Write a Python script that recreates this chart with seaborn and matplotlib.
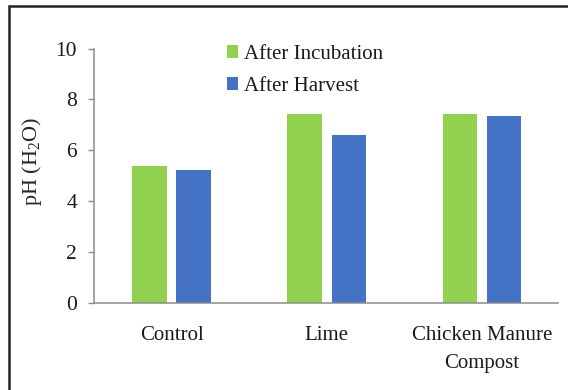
import matplotlib
matplotlib.use("Agg")
import matplotlib.pyplot as plt
import seaborn as sns
import pandas as pd
from matplotlib.patches import Rectangle

categories = ["Control", "Lime", "Chicken Manure\nCompost"]
after_incubation = [5.37, 7.42, 7.44]
after_harvest = [5.24, 6.60, 7.36]
series_names = ["After Incubation", "After Harvest"]
y_ticks = [0, 2, 4, 6, 8, 10]
colors = ["#92D050", "#4472C4"]

df = pd.DataFrame({
    "Treatment": categories * 2,
    "pH": after_incubation + after_harvest,
    "Series": [series_names[0]] * 3 + [series_names[1]] * 3,
})

sns.set_style("white")
plt.rcParams["font.family"] = ["Liberation Serif", "DejaVu Serif"]
plt.rcParams["mathtext.fontset"] = "custom"
plt.rcParams["mathtext.rm"] = "Liberation Serif"
plt.rcParams["mathtext.it"] = "Liberation Serif:italic"
plt.rcParams["text.color"] = "#1a1a1a"

fig = plt.figure(figsize=(5.68, 3.90), dpi=100)
ax = fig.add_axes([94 / 568, 1 - 302.5 / 390, (558 - 94) / 568, (302.5 - 48.7) / 390])

sns.barplot(data=df, x="Treatment", y="pH", hue="Series", palette=colors,
            order=categories, hue_order=series_names, width=0.57, gap=0.22,
            saturation=1, edgecolor="none", ax=ax)

ax.set_xlim(-0.5, 2.49)
ax.set_ylim(0, 10)
ax.set_yticks(y_ticks)
ax.set_yticklabels([str(t) for t in y_ticks])
ax.set_xlabel("")
ax.set_ylabel("pH (H$_2$O)", fontsize=16)
ax.yaxis.set_label_coords(-0.108, 0.555)

for s in ["top", "right"]:
    ax.spines[s].set_visible(False)
for s in ["left", "bottom"]:
    ax.spines[s].set_color("#8c8c8c")
    ax.spines[s].set_linewidth(1.1)

ax.tick_params(axis="y", which="both", left=True, length=4.3, width=1,
               color="#8c8c8c", labelcolor="#1a1a1a", labelsize=15.5, pad=8, direction="out")
ax.tick_params(axis="x", length=0, labelsize=15, labelcolor="#1a1a1a", pad=17)
for lab in ax.get_xticklabels():
    lab.set_linespacing(1.6)

leg = ax.legend(loc="upper left", bbox_to_anchor=(227 / 568, 1 - 45 / 390),
                bbox_transform=fig.transFigure, frameon=False, fontsize=15,
                handlelength=0.55, handleheight=0.55, handletextpad=0.25,
                labelspacing=0.62, borderpad=0, borderaxespad=0)

fig.patches.append(Rectangle((9 / 568, -0.1), 1.2, 1.1 - 6 / 390, transform=fig.transFigure,
                             fill=False, edgecolor="#222222", linewidth=1.8, clip_on=False))

fig.savefig("out.png", dpi=100)
